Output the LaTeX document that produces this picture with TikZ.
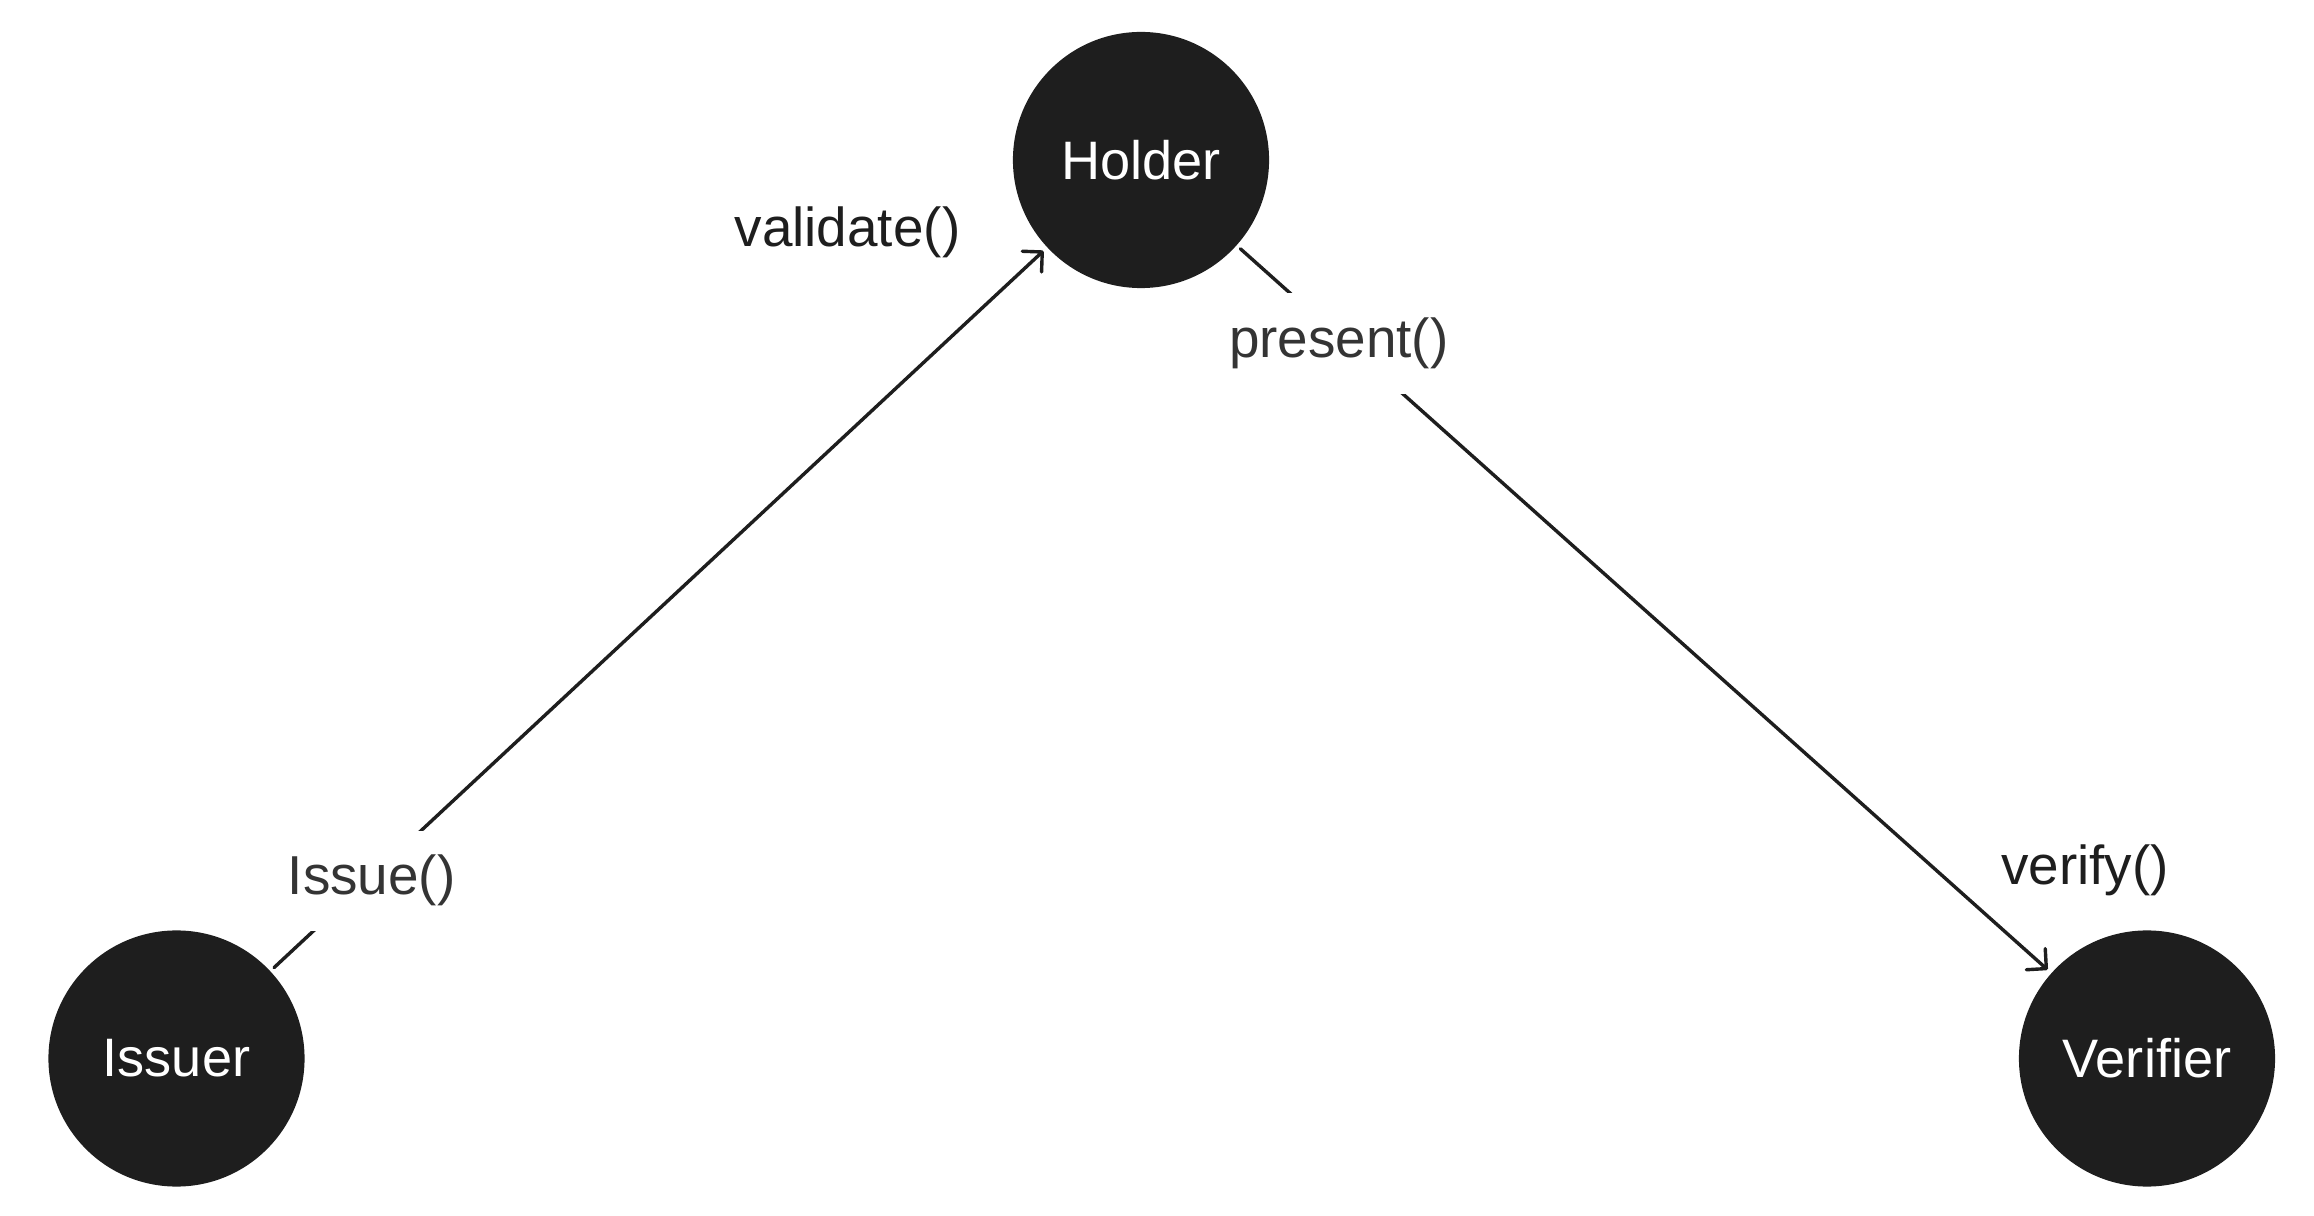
\documentclass[tikz,border=0pt]{standalone}
\usepackage{fontspec}
\setmainfont{Liberation Sans}
\usetikzlibrary{arrows.meta}
\definecolor{ink}{HTML}{1E1E1E}
\definecolor{labelgray}{HTML}{343434}
\tikzset{
  party/.style={circle, fill=ink, text=white, inner sep=0pt, minimum size=2.56cm,
    font=\fontsize{15.4pt}{18pt}\selectfont},
  flow/.style={draw=ink, line width=0.034cm, line cap=round,
    shorten <=0.045cm, shorten >=0.045cm,
    -{Straight Barb[length=0.141cm, width=0.283cm, line width=0.034cm, round]}},
  onlabel/.style={fill=white, text=labelgray, inner xsep=0.05cm, inner ysep=0.246cm,
    font=\fontsize{15.6pt}{18pt}\selectfont},
  freelabel/.style={text=ink, inner sep=0pt, anchor=base,
    font=\fontsize{15.6pt}{18pt}\selectfont}
}
\begin{document}
\begin{tikzpicture}[x=0.01cm, y=-0.01cm]
\useasboundingbox (0,0) rectangle (2314,1216);
\node[party] (issuer) at (176.5,1058.5) {Issuer};
\node[party] (holder) at (1141,160) {Holder};
\node[party] (verifier) at (2147,1058.5) {Verifier};
\draw[flow] (issuer) -- node[onlabel, pos=0.13, yshift=-0.04cm] (issuelbl) {Issue()} (holder);
\draw[flow] (holder) -- node[onlabel, pos=0.125, yshift=-0.07cm] (presentlbl) {present()} (verifier);
\node[freelabel] (validatelbl) at (847.5,247) {validate()};
\node[freelabel] (verifylbl) at (2085,885) {verify()};
\end{tikzpicture}
\end{document}
